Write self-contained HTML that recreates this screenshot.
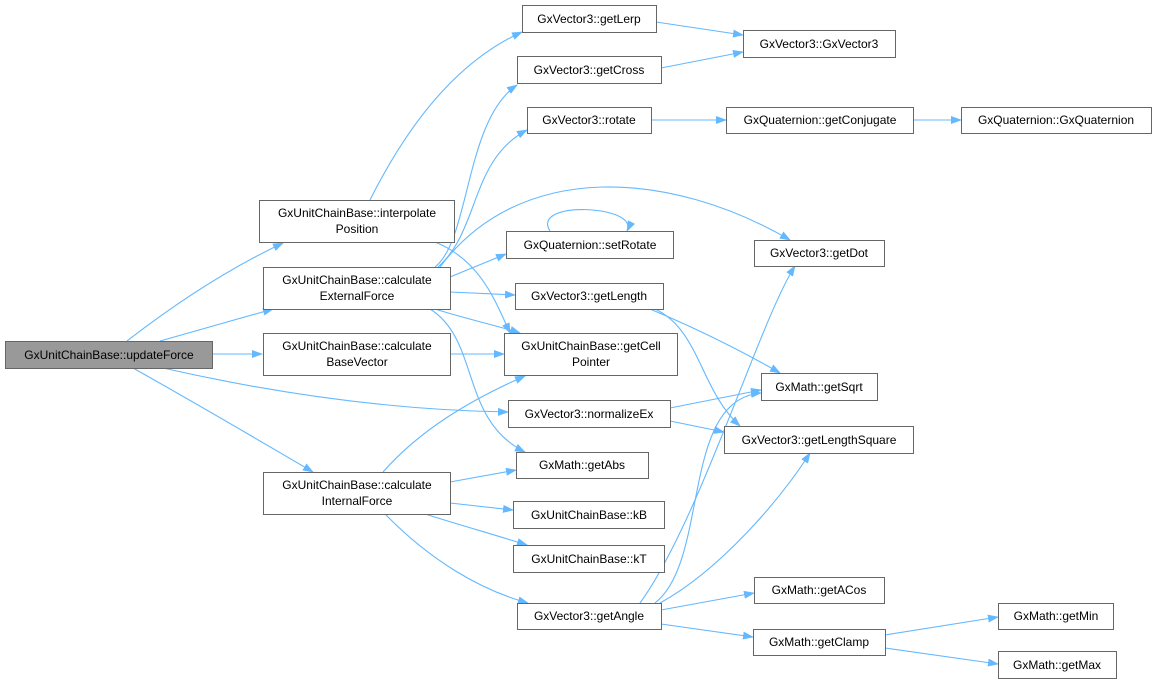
<!DOCTYPE html>
<html><head><meta charset="utf-8"><style>
body{margin:0;background:#fff;width:1156px;height:685px;overflow:hidden}
svg{position:absolute;left:0;top:0}
text{font-family:"Liberation Sans",Arial,sans-serif;font-size:12px;fill:#000}
</style></head><body>
<svg width="1156" height="685" viewBox="0 0 1156 685">
<defs><marker id="a" markerWidth="11" markerHeight="8" refX="10" refY="4" orient="auto" markerUnits="userSpaceOnUse"><path d="M0,0 L11,4 L0,8 z" fill="#63b8ff"/></marker></defs>
<g fill="none" stroke="#63b8ff" stroke-width="1.1" marker-end="url(#a)">
<path d="M127,341 C180,300 230,268 283,243"/>
<path d="M160,341 C200,330 240,318 273,309"/>
<path d="M212,354 L262,354"/>
<path d="M163,368 C260,390 380,410 508,412"/>
<path d="M133,368 C190,400 250,435 313,472"/>
<path d="M370,200 C410,120 460,60 522,32"/>
<path d="M435,242 C480,260 495,300 510,333"/>
<path d="M435,267 C470,240 465,120 517,85"/>
<path d="M438,267 C480,230 470,160 527,130"/>
<path d="M440,267 C520,160 670,170 790,240"/>
<path d="M450,277 L506,254"/>
<path d="M450,292 L515,295"/>
<path d="M435,309 C470,320 495,325 520,333"/>
<path d="M430,309 C480,340 460,420 525,452"/>
<path d="M450,354 L504,354"/>
<path d="M383,472 C420,430 470,400 525,376"/>
<path d="M450,482 L516,470"/>
<path d="M450,503 L513,510"/>
<path d="M425,514 C460,525 495,535 527,545"/>
<path d="M385,514 C430,560 480,590 528,603"/>
<path d="M656,22 L743,35"/>
<path d="M661,68 L743,52"/>
<path d="M651,120 L726,120"/>
<path d="M913,120 L961,120"/>
<path d="M550,231 C530,200 640,205 627,231"/>
<path d="M650,309 C700,330 740,350 780,373"/>
<path d="M655,309 C700,330 700,390 740,426"/>
<path d="M670,408 L761,390"/>
<path d="M670,421 L724,432"/>
<path d="M640,603 C700,520 760,320 795,266"/>
<path d="M655,603 C710,560 680,400 761,393"/>
<path d="M660,603 C720,570 780,500 810,453"/>
<path d="M661,610 L754,593"/>
<path d="M661,624 L753,637"/>
<path d="M885,635 L998,617"/>
<path d="M885,648 L998,664"/>
</g>
<g stroke="#666" stroke-width="1" fill="#fff">
<rect x="5.5" y="341.5" width="207" height="27" fill="#999"/>
<rect x="259.5" y="200.5" width="195" height="42"/>
<rect x="263.5" y="267.5" width="187" height="42"/>
<rect x="263.5" y="333.5" width="187" height="42"/>
<rect x="263.5" y="472.5" width="187" height="42"/>
<rect x="522.5" y="5.5" width="134" height="27"/>
<rect x="743.5" y="30.5" width="152" height="27"/>
<rect x="517.5" y="56.5" width="144" height="27"/>
<rect x="527.5" y="107.5" width="124" height="26"/>
<rect x="726.5" y="107.5" width="187" height="26"/>
<rect x="961.5" y="107.5" width="190" height="26"/>
<rect x="754.5" y="240.5" width="130" height="26"/>
<rect x="506.5" y="231.5" width="167" height="27"/>
<rect x="515.5" y="283.5" width="148" height="26"/>
<rect x="504.5" y="333.5" width="173" height="42"/>
<rect x="761.5" y="373.5" width="116" height="27"/>
<rect x="508.5" y="400.5" width="162" height="27"/>
<rect x="724.5" y="426.5" width="189" height="27"/>
<rect x="516.5" y="452.5" width="132" height="26"/>
<rect x="513.5" y="501.5" width="151" height="27"/>
<rect x="513.5" y="545.5" width="151" height="27"/>
<rect x="517.5" y="603.5" width="144" height="26"/>
<rect x="754.5" y="577.5" width="130" height="26"/>
<rect x="753.5" y="629.5" width="132" height="26"/>
<rect x="998.5" y="603.5" width="115" height="26"/>
<rect x="998.5" y="651.5" width="118" height="27"/>
</g>
<g text-anchor="middle">
<text x="109" y="359">GxUnitChainBase::updateForce</text>
<text x="357" y="217">GxUnitChainBase::interpolate</text><text x="357" y="233">Position</text>
<text x="357" y="284">GxUnitChainBase::calculate</text><text x="357" y="300">ExternalForce</text>
<text x="357" y="350">GxUnitChainBase::calculate</text><text x="357" y="366">BaseVector</text>
<text x="357" y="489">GxUnitChainBase::calculate</text><text x="357" y="505">InternalForce</text>
<text x="589" y="23">GxVector3::getLerp</text>
<text x="819" y="48">GxVector3::GxVector3</text>
<text x="589" y="74">GxVector3::getCross</text>
<text x="589" y="124">GxVector3::rotate</text>
<text x="820" y="124">GxQuaternion::getConjugate</text>
<text x="1056" y="124">GxQuaternion::GxQuaternion</text>
<text x="819" y="257">GxVector3::getDot</text>
<text x="590" y="249">GxQuaternion::setRotate</text>
<text x="589" y="300">GxVector3::getLength</text>
<text x="591" y="350">GxUnitChainBase::getCell</text><text x="591" y="366">Pointer</text>
<text x="819" y="391">GxMath::getSqrt</text>
<text x="589" y="418">GxVector3::normalizeEx</text>
<text x="819" y="444">GxVector3::getLengthSquare</text>
<text x="582" y="469">GxMath::getAbs</text>
<text x="589" y="519">GxUnitChainBase::kB</text>
<text x="589" y="563">GxUnitChainBase::kT</text>
<text x="589" y="620">GxVector3::getAngle</text>
<text x="819" y="594">GxMath::getACos</text>
<text x="819" y="646">GxMath::getClamp</text>
<text x="1056" y="620">GxMath::getMin</text>
<text x="1057" y="669">GxMath::getMax</text>
</g>
</svg>
</body></html>
